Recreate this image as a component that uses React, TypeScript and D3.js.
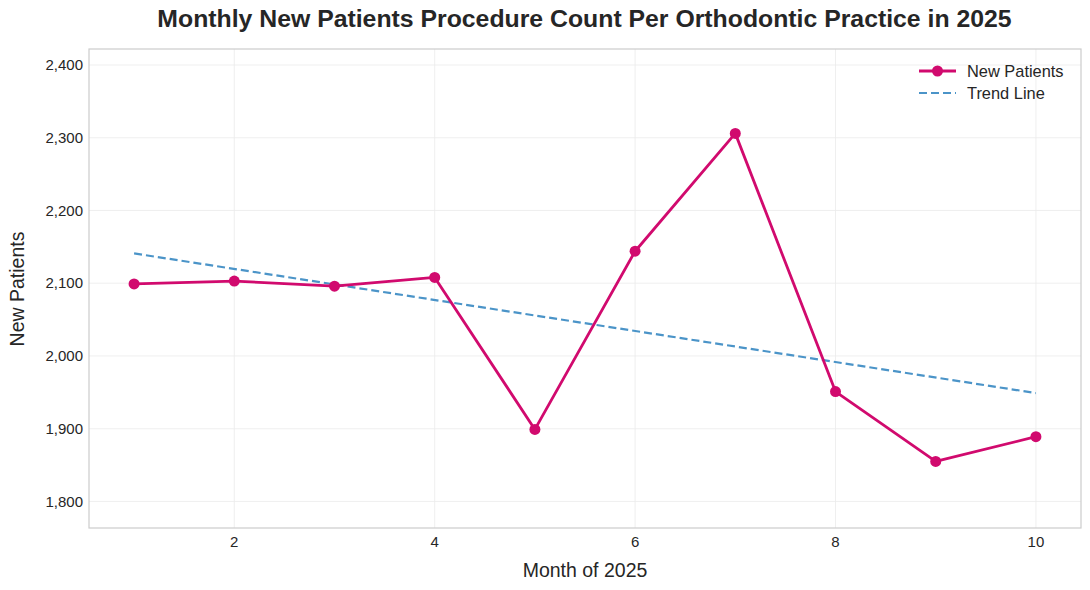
import React from 'react';
import * as d3 from 'd3';

const months = [1, 2, 3, 4, 5, 6, 7, 8, 9, 10];
const newPatients = [2099, 2103, 2096, 2108, 1899, 2144, 2306, 1951, 1855, 1889];
const trendMonths = [1, 10];
const trendValues = [2141, 1949];
const xTicks = [2, 4, 6, 8, 10];
const yTicks = [1800, 1900, 2000, 2100, 2200, 2300, 2400];

const W = 1090;
const H = 590;
const margin = { top: 49, right: 9, bottom: 62, left: 89 };
const FONT = '"Liberation Sans", Arial, Helvetica, sans-serif';

const App: React.FC = () => {
  const x = d3.scaleLinear().domain([0.55, 10.45]).range([margin.left, W - margin.right]);
  const y = d3.scaleLinear().domain([1763.5, 2422]).range([H - margin.bottom, margin.top]);

  const line = d3.line<number>()
    .x((_, i) => x(months[i]))
    .y(d => y(d));
  const trend = d3.line<number>()
    .x((_, i) => x(trendMonths[i]))
    .y(d => y(d));

  const fmt = d3.format(',');
  const pink = '#d10a6e';
  const blue = '#4b94c8';

  return (
    <svg width={W} height={H} style={{ position: 'absolute', left: 0, top: 0, fontFamily: FONT }}>
      <rect width={W} height={H} fill="#fff" />
      {/* grid */}
      <g stroke="#ebebeb" strokeWidth={0.8}>
        {xTicks.map(t => (
          <line key={'gx' + t} x1={x(t)} x2={x(t)} y1={margin.top} y2={H - margin.bottom} />
        ))}
        {yTicks.map(t => (
          <line key={'gy' + t} x1={margin.left} x2={W - margin.right} y1={y(t)} y2={y(t)} />
        ))}
      </g>
      <rect x={margin.left} y={margin.top} width={W - margin.left - margin.right}
        height={H - margin.top - margin.bottom} fill="none" stroke="#cccccc" strokeWidth={1.2} />

      {/* tick labels */}
      <g fontSize={15} fill="#262626">
        {xTicks.map(t => (
          <text key={'tx' + t} x={x(t)} y={H - margin.bottom + 19} textAnchor="middle">{t}</text>
        ))}
        {yTicks.map(t => (
          <text key={'ty' + t} x={margin.left - 6} y={y(t)} dy="0.35em" textAnchor="end">{fmt(t)}</text>
        ))}
      </g>

      {/* trend */}
      <path d={trend(trendValues) || ''} fill="none" stroke={blue} strokeWidth={2.2} strokeDasharray="8,4" />

      {/* series */}
      <path d={line(newPatients) || ''} fill="none" stroke={pink} strokeWidth={2.8} strokeLinejoin="round" />
      {newPatients.map((v, i) => (
        <circle key={'p' + i} cx={x(months[i])} cy={y(v)} r={5.5} fill={pink} />
      ))}

      {/* title + labels */}
      <text x={584.5} y={27} textAnchor="middle" fontSize={24.8} fontWeight="bold" fill="#262626">
        Monthly New Patients Procedure Count Per Orthodontic Practice in 2025
      </text>
      <text x={(margin.left + W - margin.right) / 2} y={577} textAnchor="middle" fontSize={19.5} fill="#262626">
        Month of 2025
      </text>
      <text transform={`translate(24,289) rotate(-90)`}
        textAnchor="middle" fontSize={19.5} fill="#262626">
        New Patients
      </text>

      {/* legend */}
      <g fontSize={16.4} fill="#262626">
        <line x1={919} x2={956} y1={71} y2={71} stroke={pink} strokeWidth={2.8} />
        <circle cx={937.5} cy={71} r={5.5} fill={pink} />
        <text x={967} y={71} dy="0.35em">New Patients</text>
        <line x1={919} x2={956} y1={93} y2={93} stroke={blue} strokeWidth={2.2} strokeDasharray="8,4" />
        <text x={967} y={93} dy="0.35em">Trend Line</text>
      </g>
    </svg>
  );
};

export default App;
